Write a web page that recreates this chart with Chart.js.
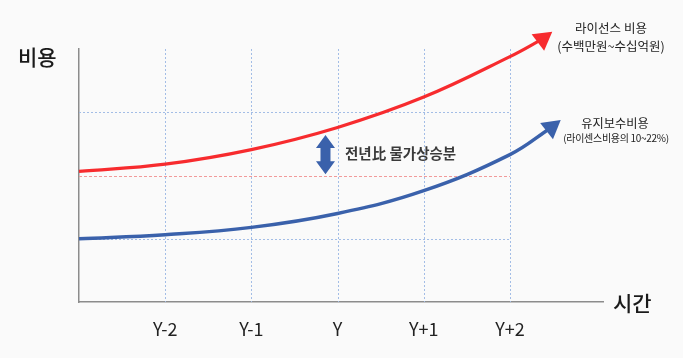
<!DOCTYPE html>
<html>
<head>
<meta charset="utf-8">
<script src="https://cdn.jsdelivr.net/npm/chart.js@4/dist/chart.umd.min.js"></script>
<style>
  html, body { margin: 0; padding: 0; background: #fafafa; }
  #wrap { position: relative; width: 683px; height: 358px; overflow: hidden; background: #fafafa; }
  canvas { position: absolute; left: 0; top: 0; }
  .t { position: absolute; white-space: nowrap; font-family: 'Noto Sans CJK KR', 'Noto Sans', sans-serif; color: #1a1a1a; line-height: 1; }
  .c { transform: translate(-50%, -50%); }
</style>
</head>
<body>
<div id="wrap">
  <canvas id="chart" width="683" height="358"></canvas>
  <div class="t" style="left:18px; top:46px; font-size:21px; font-weight:500;">비용</div>
  <div class="t" style="left:613px; top:292px; font-size:21px; font-weight:500;">시간</div>
  <div class="t c" style="left:611px; top:28px; font-size:12.5px; color:#222;">라이선스 비용</div>
  <div class="t c" style="left:611px; top:46px; font-size:12.5px; color:#222;">(수백만원~수십억원)</div>
  <div class="t c" style="left:615px; top:123px; font-size:12.2px; color:#222;">유지보수비용</div>
  <div class="t c" style="left:616px; top:138px; font-size:10px; color:#222; letter-spacing:-0.3px;">(라이센스비용의 10~22%)</div>
  <div class="t" style="left:345px; top:146px; font-size:14.5px; font-weight:700; color:#3a3a3a;">전년比 물가상승분</div>
</div>
<script>
// ---- data ----
const tickPositions = [1, 2, 3, 4, 5];
const tickLabels = ['Y-2', 'Y-1', 'Y', 'Y+1', 'Y+2'];
const licenseX = [0, 1, 2, 3, 4, 5, 5.38];
const licenseCost = [2.065, 2.18, 2.41, 2.76, 3.24, 3.88, 4.16];
const maintX = [0, 1, 2, 3, 4, 5, 5.48];
const maintCost = [1.0, 1.065, 1.18, 1.40, 1.76, 2.33, 2.76];
const refLevels = [1, 2, 3];
const refColors = ['#a3bde6', '#f19a9a', '#a3bde6'];
const gapX = 2.86;
const gapRange = [2.02, 2.64];

const RED = '#f72b2e';
const BLUE = '#3a61ab';

function toPoints(xs, ys) { return xs.map((x, i) => ({ x: x, y: ys[i] })); }

const guides = {
  id: 'guides',
  beforeDatasetsDraw(chart) {
    const { ctx, scales: { x, y } } = chart;
    ctx.save();
    ctx.lineWidth = 1;
    ctx.setLineDash([2, 2]);
    ctx.strokeStyle = '#a3bde6';
    tickPositions.forEach(v => {
      const px = Math.round(x.getPixelForValue(v)) + 0.5;
      ctx.beginPath();
      ctx.moveTo(px, y.top);
      ctx.lineTo(px, y.bottom);
      ctx.stroke();
    });
    refLevels.forEach((v, i) => {
      const py = Math.round(y.getPixelForValue(v)) + 0.5;
      ctx.strokeStyle = refColors[i];
      ctx.setLineDash(i === 1 ? [3, 2] : [2, 2]);
      ctx.beginPath();
      ctx.moveTo(x.getPixelForValue(0), py);
      ctx.lineTo(x.getPixelForValue(tickPositions[tickPositions.length - 1]), py);
      ctx.stroke();
    });
    ctx.restore();
  },
  afterDatasetsDraw(chart) {
    const { ctx, scales: { x, y } } = chart;
    const cx = x.getPixelForValue(gapX);
    const top = y.getPixelForValue(gapRange[1]);
    const bot = y.getPixelForValue(gapRange[0]);
    const hw = 9.5, hh = 13, sw = 5;
    ctx.save();
    ctx.fillStyle = BLUE;
    ctx.beginPath();
    ctx.moveTo(cx, top);
    ctx.lineTo(cx + hw, top + hh);
    ctx.lineTo(cx + sw, top + hh);
    ctx.lineTo(cx + sw, bot - hh);
    ctx.lineTo(cx + hw, bot - hh);
    ctx.lineTo(cx, bot);
    ctx.lineTo(cx - hw, bot - hh);
    ctx.lineTo(cx - sw, bot - hh);
    ctx.lineTo(cx - sw, top + hh);
    ctx.lineTo(cx - hw, top + hh);
    ctx.closePath();
    ctx.fill();
    ctx.restore();
  }
};

function arrowDataset(label, xs, ys, color, width, rot) {
  const last = xs.length - 1;
  return {
    label: label,
    data: toPoints(xs, ys),
    borderColor: color,
    backgroundColor: color,
    borderWidth: width,
    tension: 0.4,
    fill: false,
    clip: false,
    pointStyle: 'triangle',
    pointRadius: ctx => ctx.dataIndex === last ? 12 : 0,
    pointRotation: ctx => ctx.dataIndex === last ? rot : 0,
    pointBackgroundColor: color,
    pointBorderColor: color,
    pointBorderWidth: 0,
    pointHoverRadius: ctx => ctx.dataIndex === last ? 12 : 0
  };
}

new Chart(document.getElementById('chart'), {
  type: 'line',
  data: {
    datasets: [
      arrowDataset('라이선스 비용', licenseX, licenseCost, RED, 3.2, 53),
      arrowDataset('유지보수비용', maintX, maintCost, BLUE, 3.5, 52)
    ]
  },
  plugins: [guides],
  options: {
    responsive: false,
    devicePixelRatio: 1,
    animation: false,
    events: [],
    layout: { padding: { left: 79, top: 49, right: 80, bottom: 0 } },
    plugins: { legend: { display: false }, tooltip: { enabled: false }, title: { display: false } },
    scales: {
      x: {
        type: 'linear',
        min: 0,
        max: 6.08,
        afterBuildTicks: s => { s.ticks = tickPositions.map(v => ({ value: v })); },
        afterFit: s => { s.height = 56; },
        grid: { display: true, color: 'rgba(0,0,0,0)', drawTicks: false },
        border: { display: true, color: '#8c8c8c', width: 1.5 },
        ticks: {
          padding: 16,
          color: '#222',
          font: { family: "'Liberation Sans Narrow', 'Noto Sans CJK KR', sans-serif", size: 18 },
          callback: (v, i) => tickLabels[i]
        }
      },
      y: {
        type: 'linear',
        min: 0,
        max: 4,
        afterFit: s => { s.width = 0; },
        grid: { display: true, color: 'rgba(0,0,0,0)', drawTicks: false },
        border: { display: true, color: '#8c8c8c', width: 1.5 },
        ticks: { display: false }
      }
    }
  }
});
</script>
</body>
</html>
